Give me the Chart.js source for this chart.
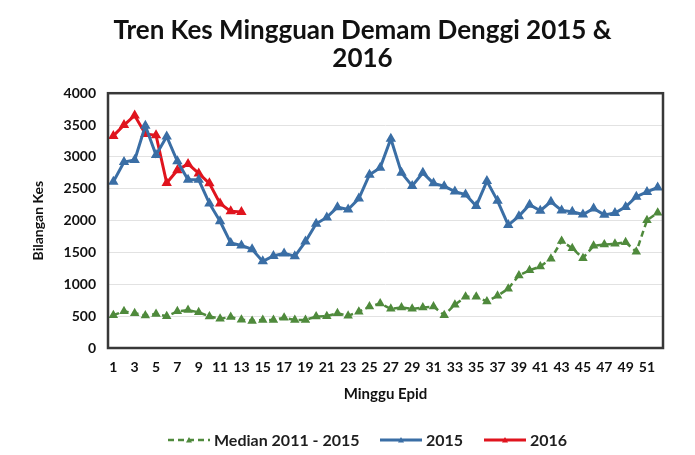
<!DOCTYPE html>
<html>
<head>
<meta charset="utf-8">
<script src="https://cdn.jsdelivr.net/npm/chart.js@4/dist/chart.umd.min.js"></script>
<style>
  html, body { margin: 0; padding: 0; background: #ffffff; }
  #wrap { width: 695px; height: 455px; position: relative; }
</style>
</head>
<body>
<div id="wrap"><canvas id="c" width="695" height="455"></canvas></div>
<script>
// ---- data ----
const titleLines = ["Tren Kes Mingguan Demam Denggi 2015 &", "2016"];
const weeks = [1,2,3,4,5,6,7,8,9,10,11,12,13,14,15,16,17,18,19,20,21,22,23,24,25,26,
               27,28,29,30,31,32,33,34,35,36,37,38,39,40,41,42,43,44,45,46,47,48,49,50,51,52];
const seriesNames = ["Median 2011 - 2015", "2015", "2016"];
const median = [515, 575, 545, 510, 535, 500, 575, 595, 560, 495, 460, 485, 445, 425, 440, 440,
                475, 440, 440, 495, 500, 545, 505, 570, 650, 700, 615, 635, 615, 635, 650, 515,
                680, 805, 805, 730, 820, 930, 1140, 1220, 1280, 1400, 1680, 1565, 1410, 1605,
                1625, 1635, 1660, 1510, 2005, 2125];
const y2015 = [2610, 2920, 2950, 3490, 3030, 3320, 2930, 2640, 2640, 2270, 1990, 1650, 1610,
               1550, 1360, 1445, 1485, 1440, 1670, 1950, 2050, 2210, 2175, 2345, 2720, 2830,
               3285, 2750, 2545, 2750, 2585, 2540, 2455, 2410, 2230, 2620, 2310, 1930, 2070,
               2250, 2155, 2295, 2160, 2140, 2095, 2190, 2090, 2120, 2215, 2375, 2450, 2520];
const y2016 = [3330, 3500, 3650, 3360, 3340, 2590, 2790, 2890, 2740, 2585, 2270, 2145, 2135];
const yTicks = [0, 500, 1000, 1500, 2000, 2500, 3000, 3500, 4000];
const xTitle = "Minggu Epid";
const yTitle = "Bilangan Kes";

// ---- styles ----
const colMedian = "#4f8a3c";
const col2015 = "#3a6ea5";
const col2016 = "#e0141e";
const FONT = "Lato, 'Open Sans', sans-serif";

const framePlugin = {
  id: "frame",
  afterDatasetsDraw(chart) {
    const a = chart.chartArea, ctx = chart.ctx;
    ctx.save();
    ctx.strokeStyle = "#383838";
    ctx.lineWidth = 2.5;
    ctx.strokeRect(a.left, a.top, a.right - a.left, a.bottom - a.top);
    ctx.restore();
  }
};

const legendPlugin = {
  id: "customLegend",
  afterDraw(chart) {
    const ctx = chart.ctx;
    const ds = chart.data.datasets;
    const y = 440;
    const items = [
      { lineX: 168, textX: 214 },
      { lineX: 380, textX: 426 },
      { lineX: 484, textX: 530 }
    ];
    ctx.save();
    ctx.font = "bold 16px " + FONT;
    ctx.textBaseline = "middle";
    ds.forEach((d, i) => {
      const it = items[i];
      ctx.strokeStyle = d.borderColor;
      ctx.lineWidth = d.borderWidth;
      ctx.setLineDash(d.borderDash || []);
      ctx.beginPath();
      ctx.moveTo(it.lineX, y);
      ctx.lineTo(it.lineX + 42, y);
      ctx.stroke();
      ctx.setLineDash([]);
      ctx.fillStyle = d.borderColor;
      const cx = it.lineX + 21, r = 3;
      ctx.beginPath();
      ctx.moveTo(cx, y - r);
      ctx.lineTo(cx + r, y + r * 0.8);
      ctx.lineTo(cx - r, y + r * 0.8);
      ctx.closePath();
      ctx.fill();
      ctx.fillStyle = "#1e1e1e";
      ctx.fillText(d.label, it.textX, y + 1);
    });
    ctx.restore();
  }
};

const commonDs = {
  pointStyle: "triangle",
  pointRadius: 3,
  pointHoverRadius: 3,
  borderWidth: 3,
  tension: 0,
  fill: false
};

new Chart(document.getElementById("c"), {
  type: "line",
  data: {
    labels: weeks,
    datasets: [
      Object.assign({}, commonDs, {
        label: seriesNames[0], data: median, borderWidth: 2.5,
        borderColor: colMedian, backgroundColor: colMedian,
        pointBackgroundColor: colMedian, pointBorderColor: colMedian,
        borderDash: [6, 4]
      }),
      Object.assign({}, commonDs, {
        label: seriesNames[1], data: y2015,
        borderColor: col2015, backgroundColor: col2015,
        pointBackgroundColor: col2015, pointBorderColor: col2015
      }),
      Object.assign({}, commonDs, {
        label: seriesNames[2], data: y2016,
        borderColor: col2016, backgroundColor: col2016,
        pointBackgroundColor: col2016, pointBorderColor: col2016
      })
    ]
  },
  options: {
    responsive: false,
    animation: false,
    devicePixelRatio: 1,
    layout: { padding: { left: 30, right: 0, top: 0, bottom: 52 } },
    plugins: {
      legend: { display: false },
      tooltip: { enabled: false },
      title: {
        display: true,
        text: titleLines,
        color: "#111111",
        font: { family: FONT, size: 26, weight: "bold", lineHeight: 1.1 },
        padding: { top: 16, bottom: 20 }
      }
    },
    scales: {
      x: {
        offset: true,
        grid: { display: false, drawTicks: false },
        border: { display: false },
        ticks: {
          autoSkip: false,
          maxRotation: 0,
          minRotation: 0,
          padding: 11,
          color: "#111111",
          font: { family: FONT, size: 14, weight: "bold" },
          callback: function (v, i) { return i % 2 === 0 ? this.getLabelForValue(v) : ""; }
        },
        title: {
          display: true,
          text: xTitle,
          color: "#111111",
          font: { family: FONT, size: 15, weight: "bold" },
          padding: { top: 4, bottom: 0 }
        },
        afterFit: s => { s.height = 55; }
      },
      y: {
        min: 0,
        max: 4000,
        grid: { color: "#e2e2e2", lineWidth: 1, drawTicks: false },
        border: { display: false },
        afterBuildTicks: s => { s.ticks = yTicks.map(v => ({ value: v })); },
        ticks: {
          padding: 12,
          color: "#111111",
          font: { family: FONT, size: 14, weight: "bold" },
          callback: v => String(v)
        },
        title: {
          display: true,
          text: yTitle,
          color: "#111111",
          font: { family: FONT, size: 14, weight: "bold" },
          padding: { top: 0, bottom: 4 }
        },
        afterFit: s => { s.width = 78; }
      },
      yRight: {
        position: "right",
        display: true,
        grid: { display: false, drawTicks: false },
        border: { display: false },
        ticks: { display: false },
        afterFit: s => { s.width = 32; }
      }
    }
  },
  plugins: [framePlugin, legendPlugin]
});
</script>
</body>
</html>
